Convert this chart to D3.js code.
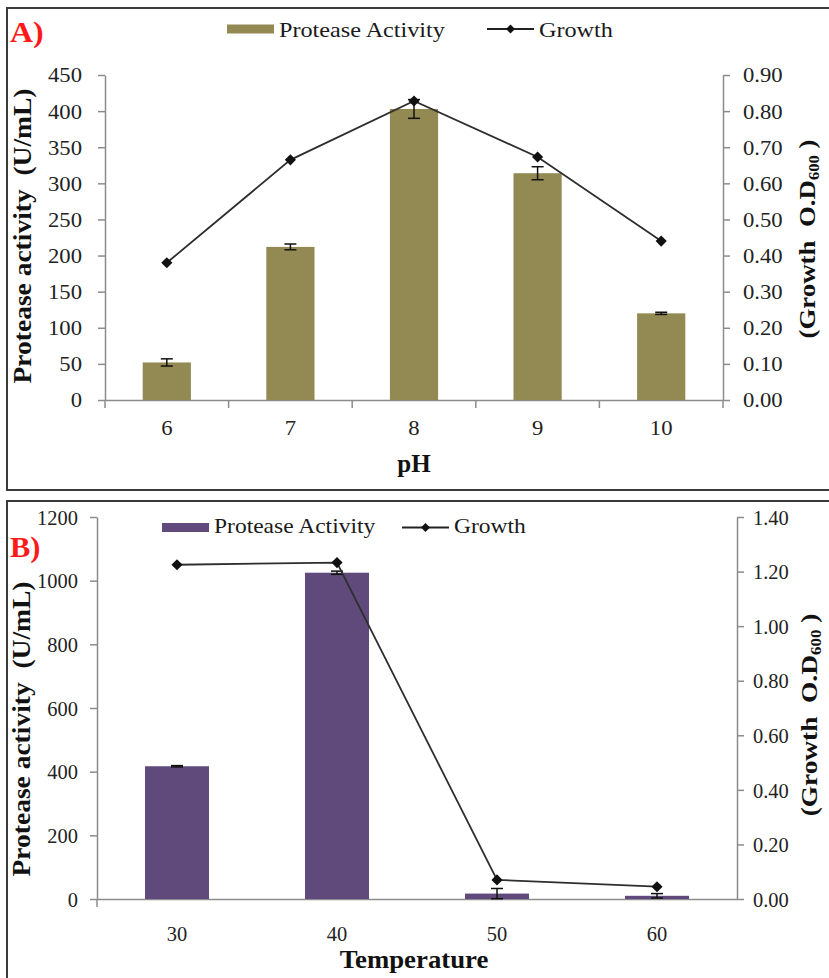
<!DOCTYPE html>
<html>
<head>
<meta charset="utf-8">
<script src="https://cdn.jsdelivr.net/npm/d3@7"></script>
<style>
  body { margin: 0; background: #fff; }
  svg { display: block; }
  text { font-family: 'Liberation Serif', 'Times New Roman', serif; white-space: pre; }
</style>
</head>
<body>
<div id="chart"></div>
<script>
// panel A: pH
const phLevels = ['6', '7', '8', '9', '10']
const phProtease = [52, 212, 403, 314, 120]
const phProteaseErr = [5, 4, 13, 9, 1.5]
const phGrowth = [0.38, 0.665, 0.828, 0.673, 0.44]

// panel B: temperature
const tempLevels = ['30', '40', '50', '60']
const tempProtease = [417, 1025, 17, 10]
const tempProteaseErr = [2, 5, 16, 7]
const tempGrowth = [1.225, 1.233, 0.07, 0.045]

const legendLabels = ['Protease Activity', 'Growth']

const svg = d3.select('#chart')
  .append('svg')
  .attr('width', 829)
  .attr('height', 978)

svg.append('rect').attr('width', 829).attr('height', 978).attr('fill', '#fff')

function addText(g, { x, y, text, size = 20, weight = 'normal', fill = '#222', anchor = 'start', sx = 1, rotate = 0 }) {
  return g.append('text')
    .attr('transform', `translate(${x},${y}) rotate(${rotate}) scale(${sx},1)`)
    .attr('text-anchor', anchor)
    .attr('font-size', size)
    .attr('font-weight', weight)
    .attr('fill', fill)
    .text(text)
}

function diamond(size) {
  return d3.symbol(d3.symbolSquare, size)()
}

function styleTickText(sel, tickFont, transform) {
  sel
    .attr('x', null).attr('y', null).attr('dy', null)
    .attr('transform', transform)
    .attr('font-size', tickFont)
    .attr('fill', '#222')
}

function drawPanel({
  frameY, frameH,
  categories, protease, proteaseErr, growth,
  left, right, top, bottom,
  yMax, yStep, y2Max, y2Step,
  barColor, barFrac,
  categoryTicks,
  tick: { size: tickFont, sx: tickSx, leftPad, rightPad, xBaseline },
  legend,
  panelLabel,
  xLabel,
  yLabel,
  y2Label,
}) {
  const g = svg.append('g')

  g.append('rect')
    .attr('x', 7).attr('y', frameY)
    .attr('width', 840).attr('height', frameH)
    .attr('fill', 'none')
    .attr('stroke', '#3a3a3a')
    .attr('stroke-width', 2)

  const xScale = d3.scaleBand().domain(categories).range([left, right])
  const yScale = d3.scaleLinear().domain([0, yMax]).range([bottom, top])
  const y2Scale = d3.scaleLinear().domain([0, y2Max]).range([bottom, top])

  const axisColor = '#8c8c8c'

  // left axis
  const yAxis = g.append('g')
    .attr('transform', `translate(${left},0)`)
    .call(d3.axisLeft(yScale)
      .tickValues(d3.range(0, yMax + yStep / 2, yStep))
      .tickFormat(d3.format('d'))
      .tickSize(7).tickSizeOuter(0).tickPadding(0))
  yAxis.attr('font-family', null)
  yAxis.select('.domain').attr('stroke', axisColor).attr('stroke-width', 1.5)
  yAxis.selectAll('.tick line').attr('stroke', axisColor).attr('stroke-width', 1.5)
  styleTickText(yAxis.selectAll('.tick text'), tickFont,
    `translate(${-leftPad},${tickFont * 0.33}) scale(${tickSx},1)`)

  // right axis
  const y2Axis = g.append('g')
    .attr('transform', `translate(${right},0)`)
    .call(d3.axisRight(y2Scale)
      .tickValues(d3.range(0, y2Max + y2Step / 2, y2Step))
      .tickFormat(d3.format('.2f'))
      .tickSize(7).tickSizeOuter(0).tickPadding(0))
  y2Axis.attr('font-family', null)
  y2Axis.select('.domain').attr('stroke', axisColor).attr('stroke-width', 1.5)
  y2Axis.selectAll('.tick line').attr('stroke', axisColor).attr('stroke-width', 1.5)
  styleTickText(y2Axis.selectAll('.tick text'), tickFont,
    `translate(${rightPad},${tickFont * 0.33}) scale(${tickSx},1)`)

  // bottom axis
  const xAxis = g.append('g')
    .attr('transform', `translate(0,${bottom})`)
    .call(d3.axisBottom(xScale).tickSize(0).tickSizeOuter(0).tickPadding(0))
  xAxis.attr('font-family', null)
  xAxis.select('.domain').attr('stroke', axisColor).attr('stroke-width', 1.5)
  styleTickText(xAxis.selectAll('.tick text'), tickFont,
    `translate(0,${xBaseline - bottom}) scale(${tickSx},1)`)

  const edges = categoryTicks
    ? categories.map(c => xScale(c)).concat([right])
    : [left]
  g.append('g')
    .selectAll('line')
    .data(edges)
    .join('line')
    .attr('x1', d => d).attr('x2', d => d)
    .attr('y1', bottom).attr('y2', bottom + 8)
    .attr('stroke', axisColor)
    .attr('stroke-width', 1.5)

  // bars
  const bw = xScale.bandwidth() * barFrac
  const cx = c => xScale(c) + xScale.bandwidth() / 2

  g.append('g')
    .selectAll('rect')
    .data(categories)
    .join('rect')
    .attr('x', d => cx(d) - bw / 2)
    .attr('width', bw)
    .attr('y', (d, i) => yScale(protease[i]))
    .attr('height', (d, i) => bottom - yScale(protease[i]))
    .attr('fill', barColor)

  // error bars
  const eg = g.append('g').attr('stroke', '#111').attr('stroke-width', 1.5)
  categories.forEach((c, i) => {
    const y0 = yScale(protease[i] - proteaseErr[i])
    const y1 = yScale(protease[i] + proteaseErr[i])
    eg.append('line').attr('x1', cx(c)).attr('x2', cx(c)).attr('y1', y0).attr('y2', y1)
    eg.append('line').attr('x1', cx(c) - 6).attr('x2', cx(c) + 6).attr('y1', y0).attr('y2', y0)
    eg.append('line').attr('x1', cx(c) - 6).attr('x2', cx(c) + 6).attr('y1', y1).attr('y2', y1)
  })

  // growth line
  const line = d3.line()
    .x(d => cx(d.c))
    .y(d => y2Scale(d.v))
  const pts = categories.map((c, i) => ({ c, v: growth[i] }))

  g.append('path')
    .datum(pts)
    .attr('d', line)
    .attr('fill', 'none')
    .attr('stroke', '#2e2e2e')
    .attr('stroke-width', 1.8)

  g.append('g')
    .selectAll('path')
    .data(pts)
    .join('path')
    .attr('d', diamond(62))
    .attr('transform', d => `translate(${cx(d.c)},${y2Scale(d.v)}) rotate(45)`)
    .attr('fill', '#111')

  // legend
  const lg = g.append('g')
  lg.append('rect')
    .attr('x', legend.rectX).attr('y', legend.y - 4.5)
    .attr('width', 47).attr('height', 9)
    .attr('fill', barColor)
  addText(lg, { x: legend.rectX + 52, y: legend.baseline, text: legendLabels[0], size: legend.size, sx: legend.sx, fill: '#1a1a1a' })
  lg.append('line')
    .attr('x1', legend.lineX).attr('x2', legend.lineX + 47)
    .attr('y1', legend.y).attr('y2', legend.y)
    .attr('stroke', '#222').attr('stroke-width', 2)
  lg.append('path')
    .attr('d', diamond(40))
    .attr('transform', `translate(${legend.lineX + 23.5},${legend.y}) rotate(45)`)
    .attr('fill', '#111')
  addText(lg, { x: legend.lineX + 52, y: legend.baseline, text: legendLabels[1], size: legend.size, sx: legend.sx, fill: '#1a1a1a' })

  // labels
  addText(g, { ...panelLabel, size: 29, weight: 'bold', fill: '#ff1a1a' })
  addText(g, { ...xLabel, anchor: 'middle', weight: 'bold', fill: '#111' })
  addText(g, { ...yLabel, text: 'Protease activity  (U/mL)', anchor: 'middle', weight: 'bold', fill: '#111', rotate: -90 })

  const t2 = g.append('text')
    .attr('transform', `translate(${y2Label.x},${y2Label.y}) rotate(-90) scale(${y2Label.sx},1)`)
    .attr('text-anchor', 'middle')
    .attr('font-size', y2Label.size)
    .attr('font-weight', 'bold')
    .attr('fill', '#111')
  t2.append('tspan').text('(Growth  O.D')
  t2.append('tspan').attr('font-size', y2Label.size * 0.62).attr('dy', 4).text('600')
  t2.append('tspan').attr('dy', -4).text(' )')
}

drawPanel({
  frameY: 8, frameH: 482,
  categories: phLevels,
  protease: phProtease,
  proteaseErr: phProteaseErr,
  growth: phGrowth,
  left: 105, right: 723, top: 75, bottom: 400,
  yMax: 450, yStep: 50, y2Max: 0.9, y2Step: 0.1,
  barColor: '#938953', barFrac: 0.39,
  categoryTicks: true,
  tick: { size: 21, sx: 1.08, leftPad: 23, rightPad: 20, xBaseline: 435 },
  legend: { rectX: 227, lineX: 487, y: 29, baseline: 37, size: 22, sx: 1.1 },
  panelLabel: { x: 10, y: 42, text: 'A)', sx: 1.1 },
  xLabel: { x: 414, y: 472, text: 'pH', size: 25, sx: 1 },
  yLabel: { x: 31, y: 236, size: 25, sx: 1.1 },
  y2Label: { x: 815, y: 239, size: 24, sx: 1.12 },
})

drawPanel({
  frameY: 501, frameH: 490,
  categories: tempLevels,
  protease: tempProtease,
  proteaseErr: tempProteaseErr,
  growth: tempGrowth,
  left: 97, right: 737, top: 517, bottom: 899,
  yMax: 1200, yStep: 200, y2Max: 1.4, y2Step: 0.2,
  barColor: '#5f4a7b', barFrac: 0.4,
  categoryTicks: false,
  tick: { size: 22, sx: 0.93, leftPad: 19, rightPad: 16, xBaseline: 941 },
  legend: { rectX: 162, lineX: 402, y: 527.5, baseline: 533, size: 21, sx: 1.12 },
  panelLabel: { x: 10, y: 557, text: 'B)', sx: 1.05 },
  xLabel: { x: 414, y: 968, text: 'Temperature', size: 26, sx: 1.03 },
  yLabel: { x: 30, y: 729, size: 25, sx: 1.1 },
  y2Label: { x: 817, y: 715, size: 24, sx: 1.14 },
})
</script>
</body>
</html>
